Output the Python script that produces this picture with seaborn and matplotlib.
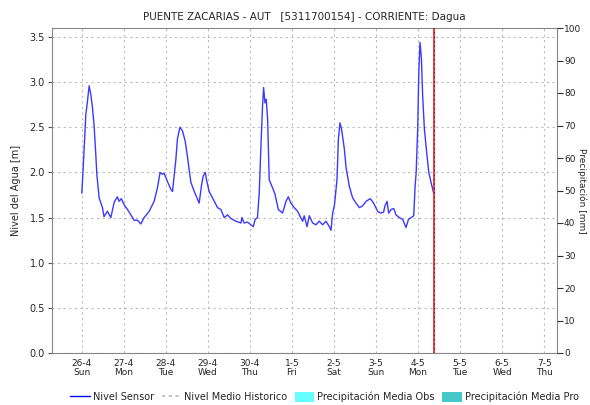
import pandas as pd
import numpy as np
import matplotlib
matplotlib.use("Agg")
import matplotlib.pyplot as plt
import matplotlib.dates as mdates
from matplotlib.lines import Line2D
from matplotlib.patches import Patch
import seaborn as sns

# hours since 26-4 00:00 and water level [m]
hours = [0, 0.5, 1.3, 2.3, 3.2, 4.2, 5.1, 6.1, 7.0, 8.0, 8.6, 9.9, 11.8, 12.7, 14.6, 16.6,
         18.5, 20.3, 21.3, 22.6, 24.2, 26.1, 28.0, 29.9, 31.8, 33.7, 35.6, 38.5, 41.3, 43.2,
         44.7, 46.1, 47.0, 48.9, 50.9, 51.8, 53.7, 54.6, 56.0, 57.5, 59.0, 60.3, 61.3, 62.3,
         64.2, 66.1, 67.0, 68.3, 69.3, 70.5, 71.2, 72.7, 74.6, 77.5, 79.4, 81.3, 83.2, 85.1,
         88.0, 90.9, 91.4, 92.7, 94.6, 96.6, 97.9, 99.0, 100.3, 101.3, 102.3, 103.2, 103.8,
         104.6, 105.3, 106.1, 107.0, 108.9, 110.3, 112.2, 114.6, 116.6, 117.9, 119.4, 121.3,
         123.2, 124.2, 126.1, 127.0, 128.6, 129.9, 131.8, 133.7, 135.6, 137.5, 139.4, 141.3,
         142.3, 143.2, 144.2, 145.7, 146.5, 147.4, 148.3, 149.9, 150.9, 152.7, 154.6, 156.6,
         158.5, 160.3, 162.3, 164.7, 166.6, 168.9, 170.5, 172.3, 173.1, 174.3, 175.2, 176.6,
         178.1, 179.4, 181.3, 183.2, 185.1, 186.5, 188.0, 189.5, 190.3, 190.9, 191.8, 192.4,
         193.1, 193.9, 194.6, 195.6, 196.9, 198.1, 199.4, 200.9]
nivel = [1.77, 1.94, 2.24, 2.64, 2.78, 2.96, 2.87, 2.72, 2.53, 2.20, 1.98, 1.72, 1.61, 1.51,
         1.57, 1.50, 1.67, 1.73, 1.68, 1.71, 1.64, 1.59, 1.53, 1.47, 1.47, 1.43, 1.50, 1.57,
         1.68, 1.83, 2.00, 1.98, 1.99, 1.90, 1.81, 1.79, 2.14, 2.37, 2.50, 2.46, 2.35, 2.18,
         2.03, 1.89, 1.79, 1.70, 1.66, 1.85, 1.96, 2.00, 1.92, 1.79, 1.72, 1.61, 1.59, 1.50,
         1.53, 1.49, 1.46, 1.44, 1.50, 1.44, 1.45, 1.42, 1.40, 1.48, 1.50, 1.77, 2.30, 2.74,
         2.94, 2.77, 2.81, 2.59, 1.92, 1.83, 1.76, 1.59, 1.55, 1.68, 1.73, 1.66, 1.61, 1.57,
         1.53, 1.46, 1.52, 1.40, 1.52, 1.44, 1.42, 1.46, 1.42, 1.46, 1.40, 1.36, 1.55, 1.63,
         1.92, 2.37, 2.55, 2.48, 2.26, 2.05, 1.85, 1.72, 1.66, 1.61, 1.63, 1.68, 1.71, 1.66,
         1.57, 1.55, 1.56, 1.63, 1.68, 1.55, 1.59, 1.60, 1.53, 1.50, 1.48, 1.39, 1.48, 1.50,
         1.52, 1.85, 2.00, 2.50, 3.11, 3.44, 3.26, 2.85, 2.48, 2.22, 2.00, 1.89, 1.77]

start = pd.Timestamp("2020-04-26")
day_labels = ["26-4\nSun", "27-4\nMon", "28-4\nTue", "29-4\nWed", "30-4\nThu", "1-5\nFri",
              "2-5\nSat", "3-5\nSun", "4-5\nMon", "5-5\nTue", "6-5\nWed", "7-5\nThu"]
now_line = start + pd.Timedelta(hours=201.1)

df = pd.DataFrame({"fecha": start + pd.to_timedelta(hours, unit="h"), "nivel": nivel})

sns.set_style("white")
plt.rcParams["font.family"] = ["DejaVu Sans"]

fig = plt.figure(figsize=(5.9, 4.05), dpi=100)
ax = fig.add_axes([52 / 590, 1 - 353 / 405, 505 / 590, 325 / 405])

sns.lineplot(data=df, x="fecha", y="nivel", ax=ax, color="#3a3aff", linewidth=1.0)

ax.set_xlim(start - pd.Timedelta(hours=17), start + pd.Timedelta(days=11, hours=7.3))
ax.set_ylim(0, 3.6)
ax.set_yticks(np.arange(0, 3.51, 0.5))
ax.set_yticklabels([f"{v:.1f}" for v in np.arange(0, 3.51, 0.5)], fontsize=7)
ticks = [start + pd.Timedelta(days=i) for i in range(len(day_labels))]
ax.set_xticks(ticks)
ax.set_xticklabels(day_labels, fontsize=6.5, linespacing=1.1)
ax.xaxis.set_minor_locator(mdates.HourLocator())
ax.tick_params(axis="x", which="major", length=0, pad=4)
ax.tick_params(axis="x", which="minor", length=2, direction="in", color="#555555", width=0.5)
ax.tick_params(axis="y", length=3, color="#555555", pad=2)
ax.grid(True, which="major", color="#bbbbbb", linestyle=(0, (2, 3)), linewidth=0.8)
ax.set_xlabel("")
ax.set_ylabel("Nivel del Agua [m]", fontsize=7, labelpad=6)

ax.axvline(now_line, color="#e02020", linewidth=1.2, zorder=5)
ax.axvline(now_line, color="#7a0000", linewidth=0.8, linestyle=(0, (1, 3)), zorder=6)

for s in ax.spines.values():
    s.set_color("#888888")
    s.set_linewidth(0.8)

ax2 = ax.twinx()
ax2.set_ylim(0, 100)
ax2.set_yticks(range(0, 101, 10))
ax2.set_yticklabels([str(v) for v in range(0, 101, 10)], fontsize=6.5)
ax2.tick_params(axis="y", length=4, color="#333333", pad=1)
ax2.set_ylabel("Precipitación [mm]", fontsize=6.5, rotation=270, va="center")
ax2.yaxis.set_label_coords(582 / 590 * 590 / 505 - 52 / 505, 0.5)
for s in ax2.spines.values():
    s.set_visible(False)

ax.set_title("PUENTE ZACARIAS - AUT   [5311700154] - CORRIENTE: Dagua", fontsize=7.5, pad=6)

handles = [Line2D([], [], color="#0000ff", linewidth=1.0),
           Line2D([], [], color="#bbbbbb", linewidth=1.2, linestyle=(0, (2, 2))),
           Patch(facecolor="#66ffff", edgecolor="none"),
           Patch(facecolor="#44c8c8", edgecolor="none")]
labels = ["Nivel Sensor", "Nivel Medio Historico", "Precipitación Media Obs", "Precipitación Media Pro"]
fig.legend(handles, labels, loc="center", bbox_to_anchor=(0.55, 1 - 397 / 405), ncol=4,
           frameon=False, fontsize=7, handlelength=2.0, handleheight=1.2, handletextpad=0.3,
           columnspacing=0.8)

fig.savefig("out.png", dpi=100)
